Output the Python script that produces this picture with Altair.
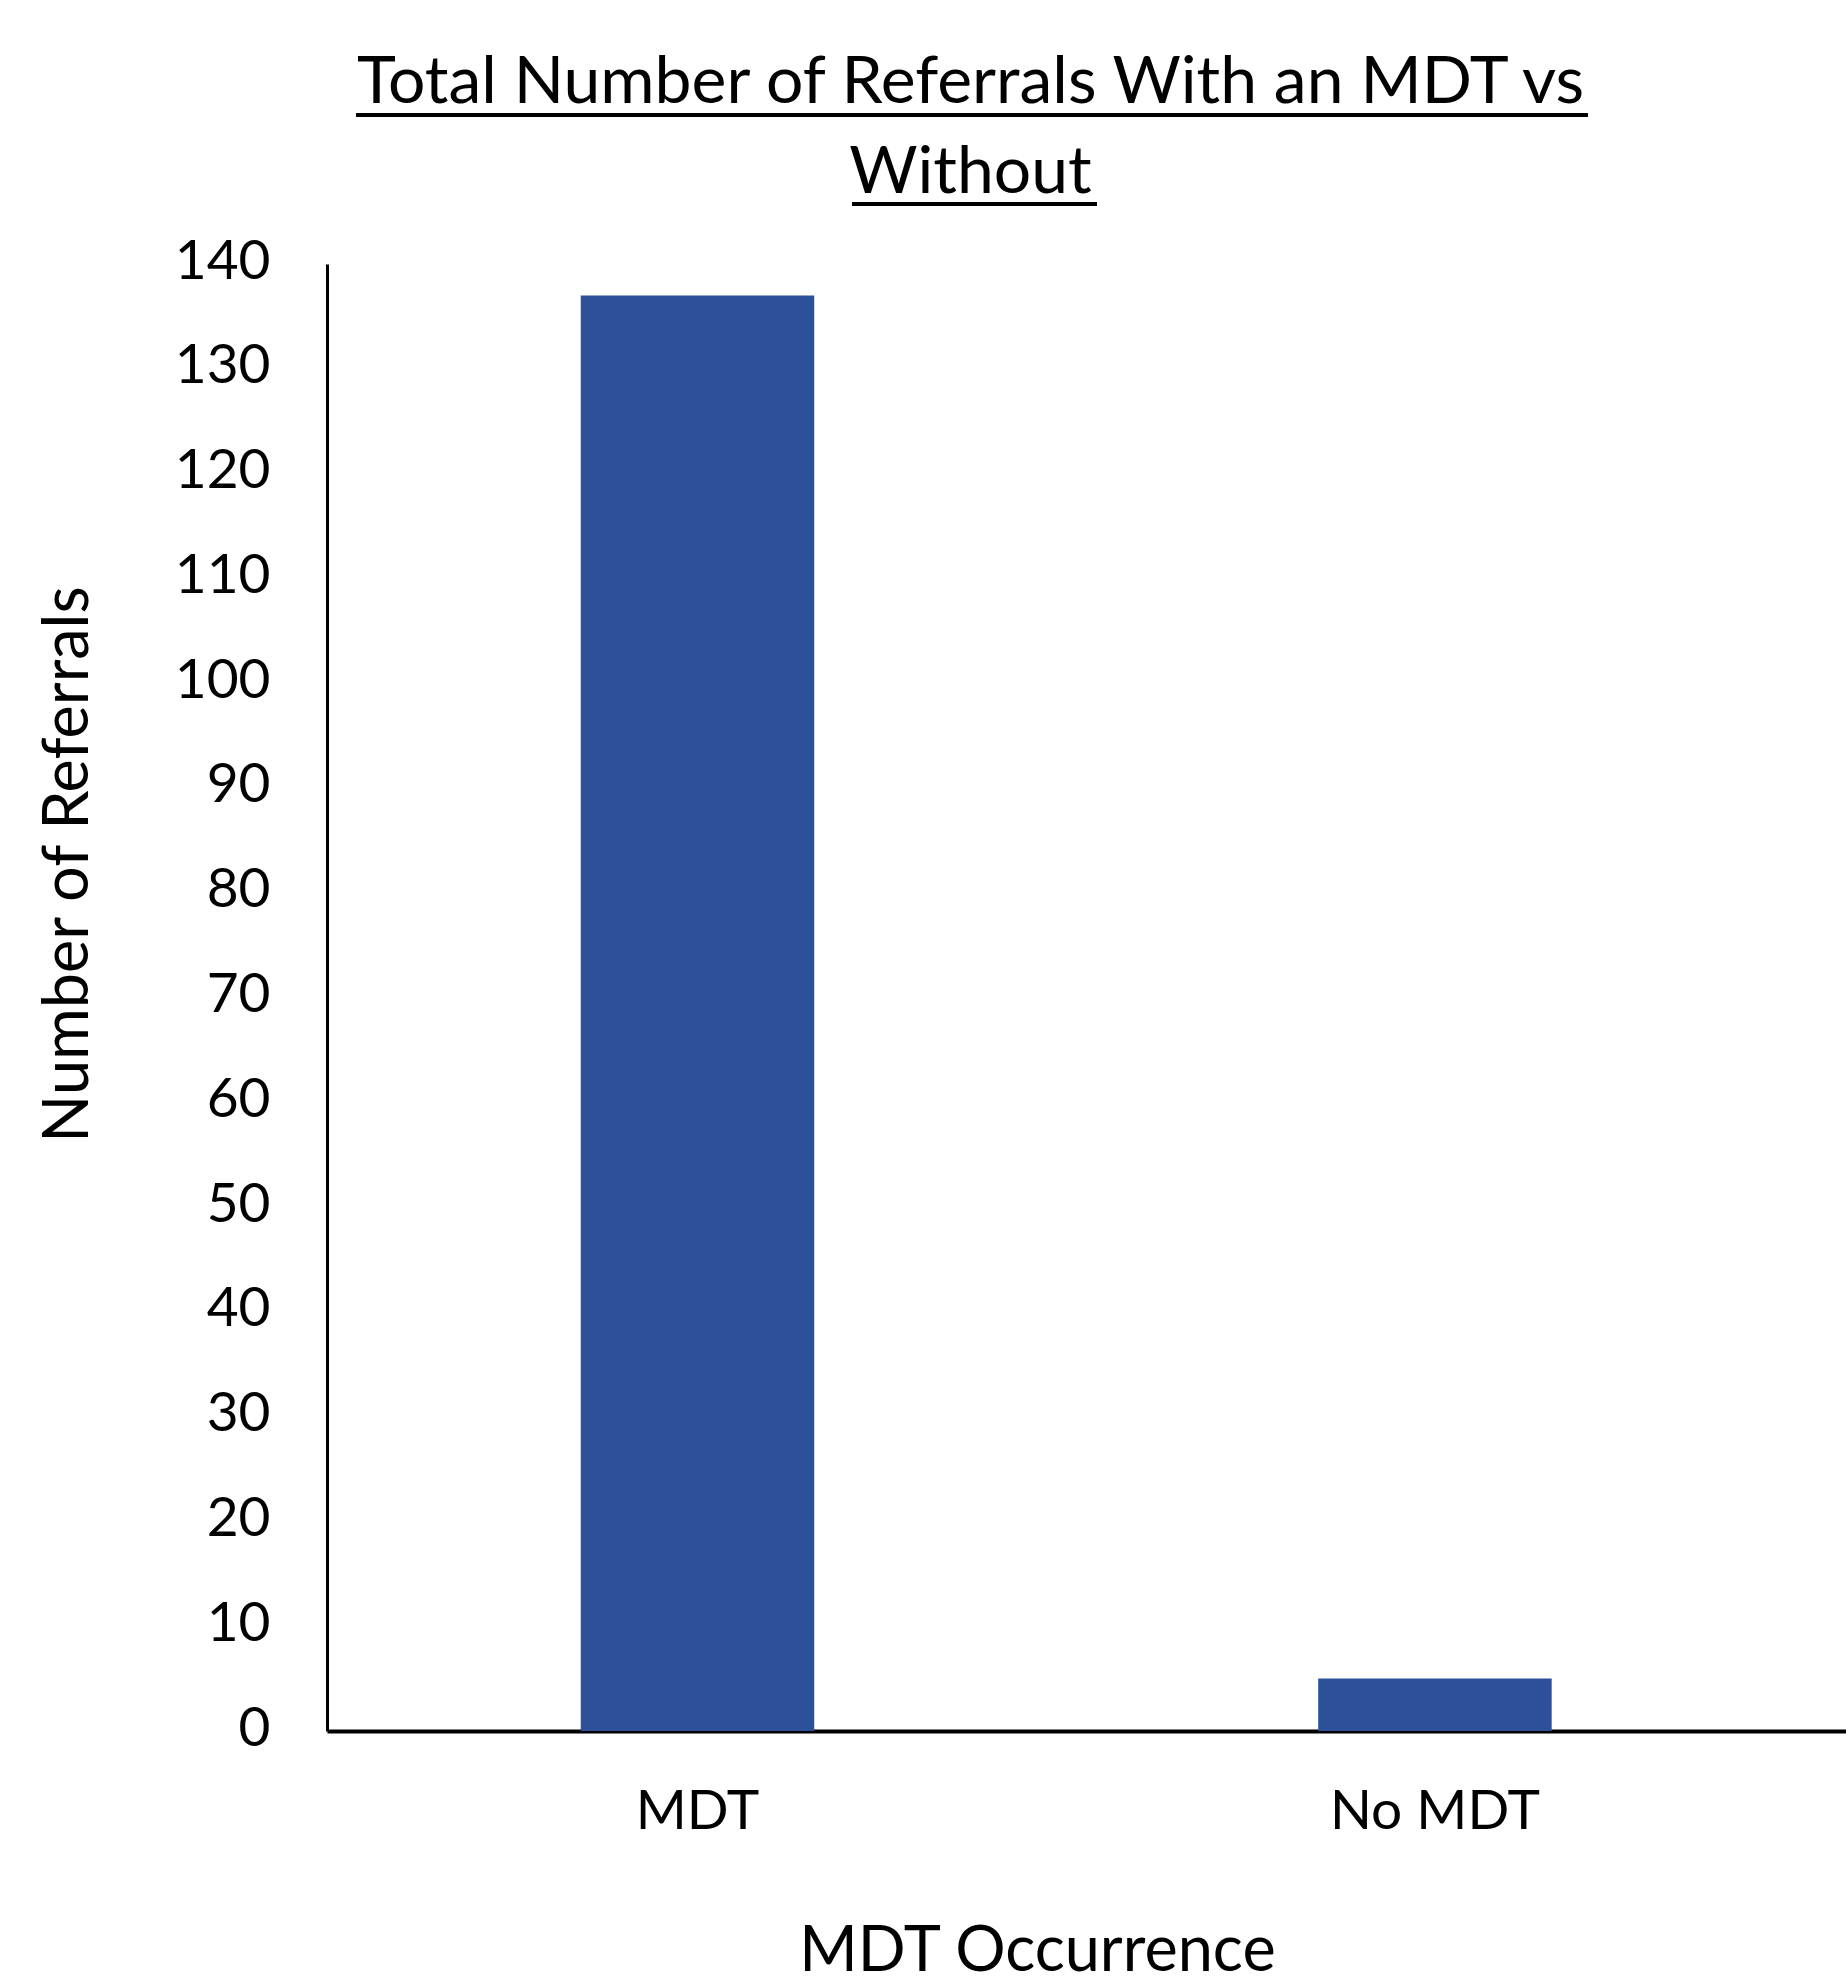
import altair as alt
import pandas as pd

# Referral counts by MDT occurrence
categories = ["MDT", "No MDT"]
referrals = [137, 5]

title_lines = ["Total Number of Referrals With an MDT vs", "Without"]
x_title = "MDT Occurrence"
y_title = "Number of Referrals"
y_ticks = list(range(0, 141, 10))

FONT = "Lato"
BAR_COLOR = "#2C5198"

df = pd.DataFrame({"occurrence": categories, "referrals": referrals})

bars = alt.Chart(df).mark_bar(color=BAR_COLOR).encode(
    x=alt.X(
        "occurrence:N",
        sort=categories,
        scale=alt.Scale(paddingInner=0.6834, paddingOuter=0.3716, align=0.463),
        axis=alt.Axis(
            title=x_title,
            labelAngle=0,
            labelFont=FONT,
            labelFontSize=55,
            labelColor="black",
            labelBaseline="alphabetic",
            labelPadding=97,
            labelLimit=0,
            ticks=False,
            tickSize=0,
            domainColor="black",
            domainWidth=4,
            titleFont=FONT,
            titleFontSize=63,
            titleFontWeight="normal",
            titleColor="black",
            titleBaseline="alphabetic",
            titleAlign="center",
            titleX=710,
            titleY=239,
        ),
    ),
    y=alt.Y(
        "referrals:Q",
        scale=alt.Scale(domain=[0, 140], nice=False),
        axis=alt.Axis(
            title=y_title,
            values=y_ticks,
            grid=False,
            ticks=False,
            tickSize=0,
            labelFont=FONT,
            labelFontSize=55,
            labelColor="black",
            labelBaseline="alphabetic",
            labelOffset=14,
            labelPadding=57,
            domainColor="black",
            domainWidth=3,
            titleFont=FONT,
            titleFontSize=63,
            titleFontWeight="normal",
            titleColor="black",
            titleBaseline="alphabetic",
            titleAlign="center",
            titleAngle=270,
            titleX=-240,
            titleY=600,
        ),
    ),
)

# underline decorations beneath the two title lines
one_row = alt.Data(values=[{"u": 1}])
underline1 = alt.Chart(one_row).mark_rule(color="black", strokeWidth=4).encode(
    x=alt.value(29), x2=alt.value(1261), y=alt.value(-149)
)
underline2 = alt.Chart(one_row).mark_rule(color="black", strokeWidth=4).encode(
    x=alt.value(525), x2=alt.value(770), y=alt.value(-60)
)

chart = (
    alt.layer(bars, underline1, underline2)
    .properties(
        width=1519,
        height=1467,
        autosize=alt.AutoSizeParams(type="none"),
        padding={"left": 327, "top": 264, "right": 0, "bottom": 253},
        title=alt.TitleParams(
            text=title_lines,
            font=FONT,
            fontSize=66,
            fontWeight="normal",
            color="black",
            anchor="middle",
            dx=-116,
            dy=98,
            lineHeight=90,
        ),
        background="white",
    )
    .configure_view(stroke=None)
)

chart.save("out.html", embed_options={"renderer": "svg", "actions": False})
